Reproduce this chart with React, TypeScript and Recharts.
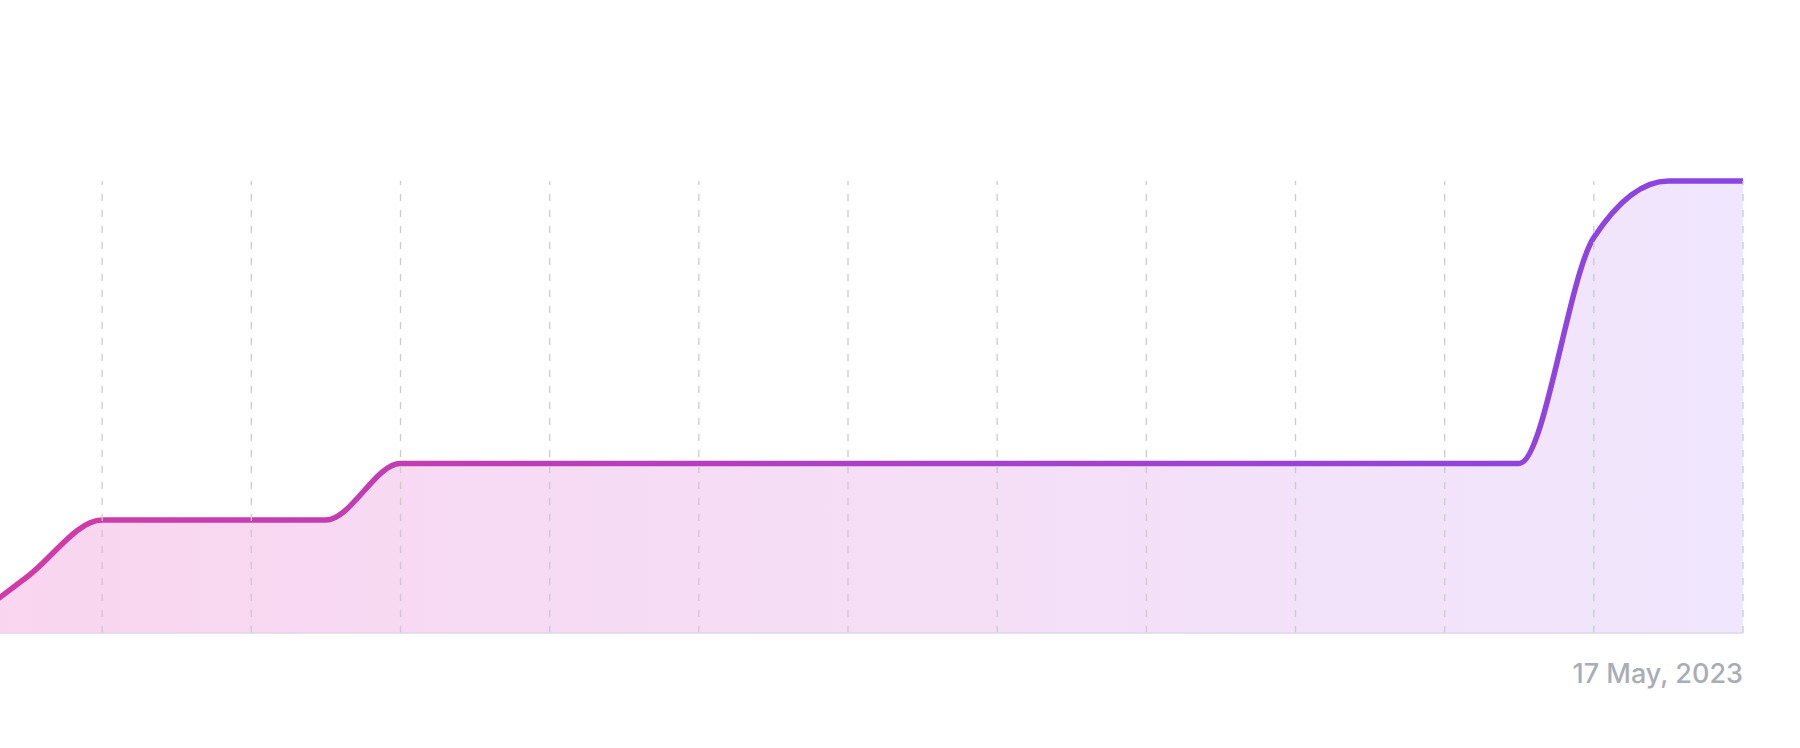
import React from 'react';
import { AreaChart, Area, XAxis, YAxis, ReferenceLine } from 'recharts';

// time in days relative to first grid line, value = cumulative count
const days = [-1, -0.5, 0, 0.5, 1, 1.5, 2, 2.5, 3, 3.5, 4, 4.5, 5, 5.5, 6, 6.5, 7, 7.5, 8, 8.5, 9, 9.5, 10, 10.5, 11];
const values = [0, 1, 2, 2, 2, 2, 3, 3, 3, 3, 3, 3, 3, 3, 3, 3, 3, 3, 3, 3, 3, 3, 7, 8, 8];
const gridTicks = [0, 1, 2, 3, 4, 5, 6, 7, 8, 9, 10, 11];
const tickLabels: Record<number, string> = { 11: '17 May, 2023' };

const data = days.map((d, i) => ({ day: d, value: values[i] }));

const Tick = (props: any) => {
  const { x, y, payload } = props;
  const label = tickLabels[payload.value];
  if (!label) return null;
  return (
    <text
      x={x}
      y={y + 42}
      textAnchor="end"
      fill="#a9adb5"
      fontSize={27}
      fontWeight={500}
      fontFamily="Inter, 'Open Sans', sans-serif"
    >
      {label}
    </text>
  );
};

export default function App() {
  return (
    <div style={{ position: 'absolute', left: -47, top: 0, width: 1847, height: 748, background: '#fff' }}>
      <AreaChart
        width={1847}
        height={748}
        data={data}
        margin={{ top: 181, right: 57, bottom: 65, left: 0 }}
      >
        <defs>
          <linearGradient id="strokeGrad" x1="0" y1="0" x2="1" y2="0">
            <stop offset="0%" stopColor="#d43aa4" />
            <stop offset="100%" stopColor="#8845e4" />
          </linearGradient>
          <linearGradient id="fillGrad" x1="0" y1="0" x2="1" y2="0">
            <stop offset="0%" stopColor="#fad5ef" />
            <stop offset="100%" stopColor="#f0e6fd" />
          </linearGradient>
        </defs>
        <XAxis
          dataKey="day"
          type="number"
          domain={[-1, 11]}
          ticks={gridTicks}
          interval={0}
          height={50}
          tickLine={false}
          axisLine={{ stroke: '#ddd8e8', strokeWidth: 1.5 }}
          tick={<Tick />}
        />
        <YAxis hide domain={[0, 8]} />
        <Area
          type="monotone"
          dataKey="value"
          stroke="url(#strokeGrad)"
          strokeWidth={5.5}
          fill="url(#fillGrad)"
          fillOpacity={1}
          isAnimationActive={false}
          dot={false}
          activeDot={false}
        />
        {gridTicks.map((t) => (
          <ReferenceLine
            key={t}
            x={t}
            stroke="#cbcad2"
            strokeWidth={1.3}
            strokeDasharray="7 9"
          />
        ))}
      </AreaChart>
    </div>
  );
}
